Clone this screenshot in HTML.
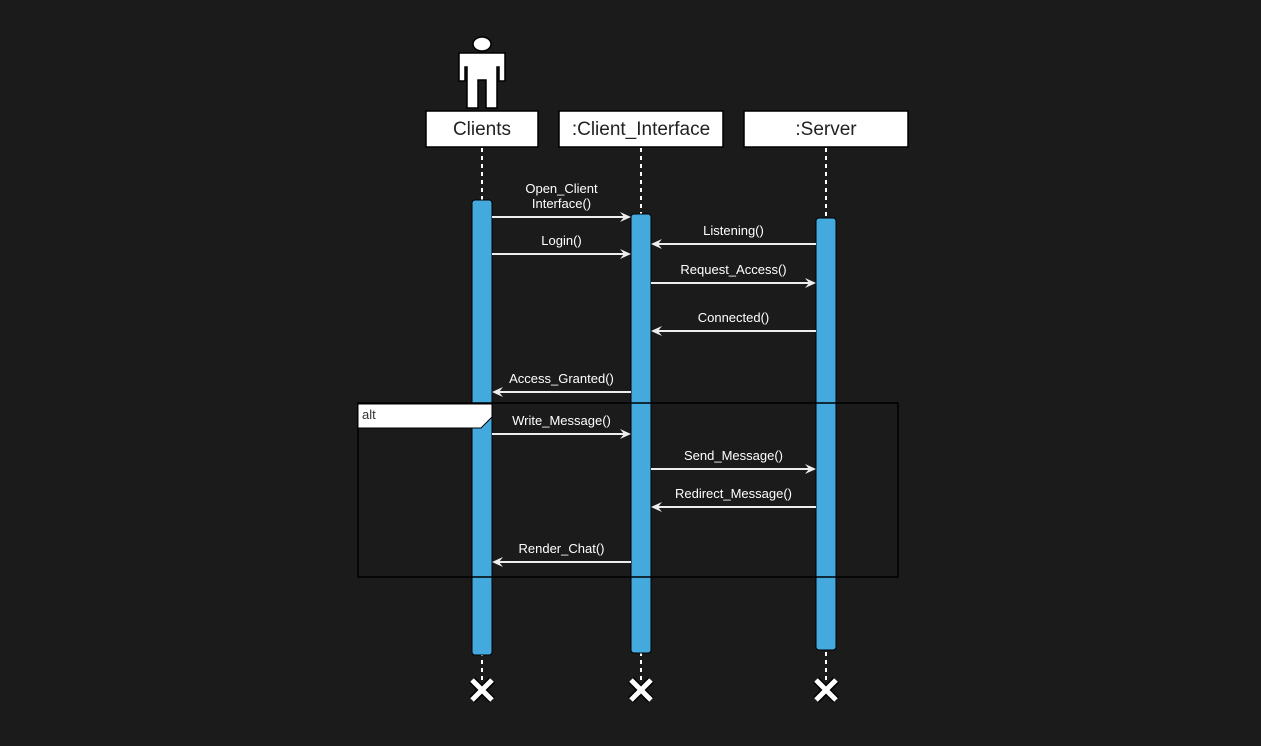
<!DOCTYPE html>
<html><head><meta charset="utf-8"><style>
html,body{margin:0;padding:0;background:#1b1b1b;}
svg{display:block;font-family:"Liberation Sans",Arial,sans-serif;}
</style></head><body>
<svg id="d" width="1261" height="746" viewBox="0 0 1261 746">
<rect width="1261" height="746" fill="#1b1b1b"/>
<!-- actor -->
<g fill="#fff" stroke="#000" stroke-width="1.5">
<ellipse cx="482" cy="44" rx="9" ry="7"/>
<path d="M459 53 H505 V81 H499 V67 H497 V108 H486 V80 H478 V108 H467 V67 H465 V81 H459 Z"/>
</g>
<g id="lifelines"></g>
<g id="msgs"></g>
<g>
<rect x="358" y="403" width="540" height="174" fill="none" stroke="#000" stroke-width="1.5"/>
<path d="M358 404 H492 V417 L481 428 H358 Z" fill="#fff" stroke="#000"/>
<text x="362" y="419" font-size="13" fill="#333">alt</text>
</g>
</svg>
<script>
const participants=["Clients",":Client_Interface",":Server"];
const lifelineX=[482,641,826];
const boxL=[426,559,744],boxR=[538,723,908];
const actTop=[200,214,218],actBot=[655,653,650];
const msgLabels=[["Open_Client","Interface()"],["Listening()"],["Login()"],["Request_Access()"],["Connected()"],["Access_Granted()"],["Write_Message()"],["Send_Message()"],["Redirect_Message()"],["Render_Chat()"]];
const msgFrom=[0,2,0,1,2,1,0,1,2,1];
const msgTo=[1,1,1,2,1,0,1,2,1,0];
const msgY=[217,244,254,283,331,392,434,469,507,562];
const NS="http://www.w3.org/2000/svg";
function mk(t,a,p){const e=document.createElementNS(NS,t);for(const k in a)e.setAttribute(k,a[k]);p.appendChild(e);return e;}
const L=document.getElementById('lifelines'),M=document.getElementById('msgs');
participants.forEach((n,i)=>{
 const x=lifelineX[i];
 const ln=mk('line',{x1:x,y1:148,x2:x,y2:680,stroke:'#fff','stroke-width':2,'stroke-dasharray':'4 4'},L);
 
 
 const b=mk('rect',{x:boxL[i],y:111,width:boxR[i]-boxL[i],height:36,fill:'#fff',stroke:'#000','stroke-width':1.5},L);
 
 
 const t=mk('text',{x:(boxL[i]+boxR[i])/2,y:135,'text-anchor':'middle','font-size':19,fill:'#222'},L);
 t.textContent=n;
 
 
 const a=mk('rect',{x:x-10,y:actTop[i],width:20,height:actBot[i]-actTop[i],rx:3,fill:'#44a9dd',stroke:'#000','stroke-width':1},L);
 
 
 const g=mk('g',{},L);
 
 
 mk('path',{d:`M${x-10} 680 L${x+10} 700 M${x+10} 680 L${x-10} 700`,stroke:'#000','stroke-width':8},g);
 mk('path',{d:`M${x-10} 680 L${x+10} 700 M${x+10} 680 L${x-10} 700`,stroke:'#fff','stroke-width':5},g);
});
msgLabels.forEach((lab,i)=>{
 const f=msgFrom[i],t=msgTo[i],y=msgY[i];
 const dir=Math.sign(lifelineX[t]-lifelineX[f]);
 const x1=lifelineX[f]+dir*10,x2=lifelineX[t]-dir*10;
 const g=mk('g',{},M);
 
 
 mk('line',{x1:x1,y1:y,x2:x2-dir*2,y2:y,stroke:'#eee','stroke-width':2},g);
 mk('path',{d:`M${x2} ${y} L${x2-dir*11} ${y-5} L${x2-dir*7} ${y} L${x2-dir*11} ${y+5} Z`,fill:'#eee'},g);
 const cx=(x1+x2)/2;
 lab.forEach((s,j)=>{
  const tx=mk('text',{x:cx,y:y-9-(lab.length-1-j)*15,'text-anchor':'middle','font-size':13,fill:'#fff'},g);
  tx.textContent=s;
  
  
 });
});
</script>
</body></html>
